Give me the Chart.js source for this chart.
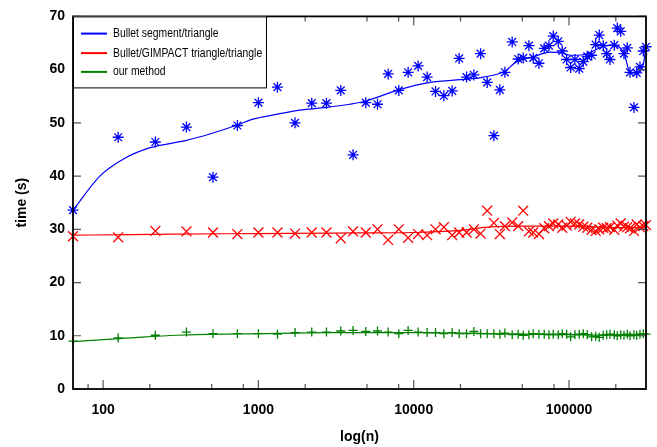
<!DOCTYPE html>
<html>
<head>
<meta charset="utf-8">
<script src="https://cdn.jsdelivr.net/npm/chart.js@4.4.1/dist/chart.umd.min.js"></script>
<style>
  html, body { margin: 0; padding: 0; background: #fff; }
  #wrap { width: 657px; height: 447px; }
</style>
</head>
<body>
<div id="wrap"><canvas id="chart" width="657" height="447"></canvas></div>
<script>
// ===============================
// DATA
// ===============================

// problem sizes n (shared by the three methods)
const nValues = [64,125,217,344,510,732,1000,1326,1721,2205,
  2742,3391,4070,4913,5846,6842,8017,9204,10670,12200,
  13820,15630,17680,19610,21890,24390,26940,29720,32820,35870,
  38640,43050,47070,50680,55160,58810,63990,69210,74220,79120,
  85200,90410,96500,102400,109100,116300,123500,131000,139800,148400,
  156500,166100,174700,183400,195600,204400,215100,225800,237100,246900,
  261900,272600,286300,300700,313000];

// measured times (s)
const bulletSegment = [33.6,47.3,46.4,49.2,39.8,49.5,53.8,56.7,50.0,53.7,
  53.7,56.1,44.0,53.8,53.5,59.2,56.1,59.5,60.7,58.6,
  55.9,55.1,56.0,62.1,58.6,59.0,63.0,57.6,47.6,56.2,
  59.5,65.2,62.0,62.2,64.5,62.2,61.2,64.0,64.5,66.3,
  65.3,63.5,61.9,60.4,61.9,60.2,61.5,62.5,62.7,64.7,
  66.5,64.5,63.0,61.9,64.6,67.8,67.2,63.0,64.1,59.5,
  52.9,59.4,60.5,63.5,64.3];

const bulletGimpact = [28.7,28.5,29.7,29.6,29.4,29.1,29.4,29.4,29.2,29.4,
  29.4,28.3,29.6,29.4,30.0,28.0,30.0,28.4,29.1,28.9,
  30.0,30.4,28.9,29.4,29.4,30.0,29.2,33.5,31.2,29.1,
  30.6,31.3,30.6,33.5,29.6,29.4,29.1,30.2,30.6,31.1,
  30.9,30.3,30.7,31.4,31.1,30.9,30.5,30.3,29.9,29.7,
  30.0,30.3,30.2,30.4,29.9,30.7,31.1,30.5,30.4,30.2,
  29.7,30.9,30.4,30.6,30.8];

const ourMethod = [9.0,9.6,10.1,10.7,10.4,10.4,10.4,10.3,10.6,10.7,
  10.7,10.9,11.0,10.8,10.9,10.7,10.4,11.0,10.7,10.6,
  10.6,10.4,10.6,10.4,10.4,10.8,10.4,10.4,10.4,10.3,
  10.5,10.2,10.3,10.1,10.2,10.4,10.3,10.3,10.2,10.3,
  10.2,10.4,10.3,9.8,10.2,10.3,10.4,10.2,9.8,9.9,
  9.7,10.1,10.2,10.3,10.2,10.0,10.2,10.1,10.3,10.0,
  10.2,10.1,10.3,10.4,10.3];

// smoothed curves
const blueFitN = [64,96,139,199,344,486,732,923,1306,1846,2742,3873,4913,8017,12700,21890,
  28000,38640,45950,58810,75340,90410,101400,123500,143300,166100,192600,225800,246900,272600,300700,313000];
const blueFitY = [33.6,40.1,43.4,45.3,46.7,47.9,49.6,50.7,51.6,52.4,52.9,53.5,54.1,56.2,57.6,58.2,
  58.6,59.7,61.5,62.4,63.3,63.1,62.7,62.8,63.5,64.4,64.6,63.1,59.5,59.4,61.0,64.3];

const flatFitN = [64,150,300,1000,3000,10000,20000,30000,50000,100000,200000,313000];
const redFitY = [28.9,29.0,29.1,29.2,29.3,29.4,29.8,30.4,30.6,30.6,30.3,30.3];
const greenFitY = [8.9,9.6,10.1,10.4,10.6,10.6,10.5,10.4,10.3,10.2,10.1,10.3];

// axes
const xMajorTicks = [100, 1000, 10000, 100000];
const xMinorTicks = [80, 200, 500, 800, 2000, 5000, 8000, 20000, 50000, 80000, 200000];
const yTicks = [0, 10, 20, 30, 40, 50, 60, 70];

const seriesLabels = ["Bullet segment/triangle", "Bullet/GIMPACT triangle/triangle", "our method"];
const seriesColors = ["#0000ff", "#ff0000", "#008000"];

// ===============================
// HELPERS
// ===============================

function pts(xs, ys) {
  return xs.map((x, i) => ({ x: x, y: ys[i] }));
}

function markers(ys, color, style, radius) {
  return {
    data: pts(nValues, ys),
    showLine: false,
    pointStyle: style,
    pointRadius: radius,
    pointBorderColor: color,
    pointBorderWidth: 1.3,
    pointBackgroundColor: color,
    clip: false
  };
}

function curve(xs, ys, color) {
  return {
    data: pts(xs, ys),
    showLine: true,
    borderColor: color,
    borderWidth: 1.2,
    pointRadius: 0,
    cubicInterpolationMode: "monotone",
    fill: false
  };
}

// frame, inward ticks and boxed legend
const frameLegend = {
  id: "frameLegend",
  afterDatasetsDraw(chart) {
    const ctx = chart.ctx;
    const a = chart.chartArea;
    const x = chart.scales.x;
    const y = chart.scales.y;

    ctx.save();
    ctx.strokeStyle = "#555";
    ctx.lineWidth = 1.2;
    ctx.beginPath();
    yTicks.forEach(v => {
      const py = y.getPixelForValue(v);
      ctx.moveTo(a.left, py); ctx.lineTo(a.left + 8, py);
      ctx.moveTo(a.right, py); ctx.lineTo(a.right - 8, py);
    });
    xMajorTicks.forEach(v => {
      const px = x.getPixelForValue(v);
      ctx.moveTo(px, a.bottom); ctx.lineTo(px, a.bottom - 9);
      ctx.moveTo(px, a.top); ctx.lineTo(px, a.top + 9);
    });
    xMinorTicks.forEach(v => {
      const px = x.getPixelForValue(v);
      ctx.moveTo(px, a.bottom); ctx.lineTo(px, a.bottom - 5);
      ctx.moveTo(px, a.top); ctx.lineTo(px, a.top + 5);
    });
    ctx.stroke();

    ctx.strokeStyle = "#000";
    ctx.lineWidth = 1.8;
    ctx.strokeRect(a.left, a.top, a.right - a.left, a.bottom - a.top);

    // legend box
    const bw = 193, bh = 71;
    ctx.fillStyle = "#fff";
    ctx.fillRect(a.left, a.top, bw, bh);
    ctx.lineWidth = 1;
    ctx.strokeRect(a.left + 0.5, a.top + 0.5, bw, bh);

    ctx.font = '12.5px "Liberation Sans", Arial';
    ctx.textBaseline = "middle";
    ctx.textAlign = "left";
    const rows = [17.2, 36.7, 55.5];
    seriesLabels.forEach((lab, i) => {
      const ly = a.top + rows[i];
      ctx.strokeStyle = seriesColors[i];
      ctx.lineWidth = 2;
      ctx.beginPath();
      ctx.moveTo(a.left + 8, ly);
      ctx.lineTo(a.left + 34, ly);
      ctx.stroke();
      // narrow face, like the original
      ctx.save();
      ctx.translate(a.left + 40, ly);
      ctx.scale(0.83, 1);
      ctx.fillStyle = "#000";
      ctx.fillText(lab, 0, 0);
      ctx.restore();
    });
    ctx.restore();
  }
};

// ===============================
// CHART
// ===============================

const tickFont = { family: "'Liberation Sans', Arial", size: 14, weight: "bold" };

new Chart(document.getElementById("chart"), {
  type: "scatter",
  data: {
    datasets: [
      markers(bulletSegment, seriesColors[0], "star", 5.5),
      markers(bulletGimpact, seriesColors[1], "crossRot", 7),
      markers(ourMethod, seriesColors[2], "cross", 4.5),
      curve(blueFitN, blueFitY, seriesColors[0]),
      curve(flatFitN, redFitY, seriesColors[1]),
      curve(flatFitN, greenFitY, seriesColors[2])
    ]
  },
  options: {
    responsive: false,
    animation: false,
    devicePixelRatio: 1,
    layout: { padding: { top: 15, right: 11, left: 0, bottom: 0 } },
    plugins: {
      legend: { display: false },
      tooltip: { enabled: false }
    },
    scales: {
      x: {
        type: "logarithmic",
        min: 64,
        max: 313000,
        grid: { display: false, drawTicks: false },
        border: { display: false },
        afterBuildTicks: s => { s.ticks = xMajorTicks.map(v => ({ value: v })); },
        afterFit: s => { s.height = 58; },
        ticks: {
          font: tickFont,
          color: "#000",
          padding: 13,
          maxRotation: 0,
          autoSkip: false,
          callback: v => String(v)
        },
        title: {
          display: true,
          text: "log(n)",
          font: tickFont,
          color: "#000",
          padding: { top: 0, bottom: 1 }
        }
      },
      y: {
        min: 0,
        max: 70,
        grid: { display: false, drawTicks: false },
        border: { display: false },
        afterBuildTicks: s => { s.ticks = yTicks.map(v => ({ value: v })); },
        afterFit: s => { s.width = 73; },
        ticks: {
          font: tickFont,
          color: "#000",
          padding: 8
        },
        title: {
          display: true,
          text: "time (s)",
          font: tickFont,
          color: "#000",
          padding: { top: 14, bottom: 0 }
        }
      }
    }
  },
  plugins: [frameLegend]
});
</script>
</body>
</html>
